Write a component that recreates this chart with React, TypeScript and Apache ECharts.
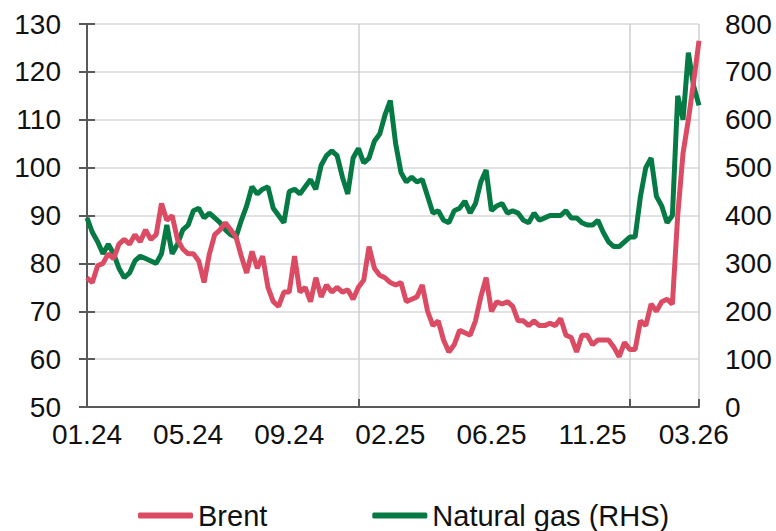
import React, { useEffect, useRef } from "react";
import * as echarts from "echarts";

const xLabels = ["01.24", "05.24", "09.24", "02.25", "06.25", "11.25", "03.26"];
const labelStep = 19;
const yearStep = 51;

const brent = [
  77, 76, 79.5, 80, 82, 81, 84, 85, 84, 86,
  84.5, 87, 85, 86, 92.5, 89, 90, 85, 83, 82,
  82, 80.5, 76, 82, 86, 87, 88.5, 87, 85.5, 81.5,
  78, 82.5, 79, 81.5, 75, 72, 71, 74, 74, 81.5,
  74, 75, 72, 77, 73, 75.5, 74, 75, 74, 74.5,
  72.5, 75, 76.5, 83.5, 79, 77.5, 77, 76, 75.5, 76,
  72, 72.5, 73, 75.5, 70, 67, 68, 64, 61.5, 63,
  66, 65.5, 65, 68, 73, 77, 70, 72, 71.5, 72,
  71, 68, 68, 67, 68, 67, 67, 67.5, 67, 68.5,
  65, 64.5, 61.5, 65, 65, 63, 64, 64, 64, 62.5,
  60.5, 63.5, 62, 62, 68, 67, 71.5, 70, 72, 72.5,
  71.5, 90, 103, 110, 118, 126.5,
];

const gas = [
  395, 365, 345, 320, 340, 320, 290, 270, 280, 305,
  315, 310, 305, 300, 320, 380, 320, 340, 370, 380,
  410, 415, 395, 405, 395, 385, 370, 360, 355, 390,
  420, 460, 445, 455, 460, 415, 400, 385, 450, 455,
  445, 460, 475, 455, 505, 525, 535, 525, 480, 445,
  520, 540, 510, 520, 555, 570, 610, 640, 550, 490,
  470, 480, 470, 475, 440, 405, 410, 390, 385, 410,
  415, 430, 405, 425, 470, 495, 410, 420, 425, 405,
  410, 405, 390, 385, 405, 390, 395, 400, 400, 400,
  410, 395, 395, 385, 380, 380, 390, 365, 345, 335,
  335, 345, 355, 355, 440, 500, 520, 440, 420, 385,
  400, 650, 600, 740, 670, 630,
];

const FONT = "'Liberation Sans', Arial, sans-serif";
const AXIS_COLOR = "#595959";

export default function App() {
  const ref = useRef<HTMLDivElement>(null);

  useEffect(() => {
    if (!ref.current) return;
    const chart = echarts.init(ref.current, undefined, { renderer: "svg" });
    const last = brent.length - 1;
    chart.setOption({
      animation: false,
      backgroundColor: "#ffffff",
      textStyle: { fontFamily: FONT },
      grid: { left: 87, right: 77, top: 24, bottom: 124, containLabel: false },
      legend: {
        data: ["Brent", "Natural gas (RHS)"],
        left: 138,
        top: 501,
        padding: 0,
        icon: "roundRect",
        itemWidth: 55,
        itemHeight: 6,
        itemGap: 105,
        textStyle: { fontSize: 29, color: "#111", fontFamily: FONT },
      },
      xAxis: [
        {
          type: "value",
          min: 0,
          max: last,
          interval: labelStep,
          axisLine: { show: true, lineStyle: { color: AXIS_COLOR, width: 2 } },
          axisTick: { show: false },
          splitLine: { show: false },
          axisLabel: {
            fontSize: 28,
            color: "#111",
            fontFamily: FONT,
            margin: 13,
            showMaxLabel: true,
            formatter: (v: number) =>
              v % labelStep === 0 ? xLabels[v / labelStep] ?? "" : "",
          },
        },
        {
          type: "value",
          min: 0,
          max: last,
          interval: yearStep,
          position: "bottom",
          axisLine: { show: false },
          axisLabel: { show: false },
          axisTick: { show: true, inside: true, length: 8, lineStyle: { color: AXIS_COLOR, width: 2 } },
          splitLine: { show: true, lineStyle: { color: "#c9d0d4", width: 1.5 } },
        },
      ],
      yAxis: [
        {
          type: "value",
          min: 50,
          max: 130,
          interval: 10,
          position: "left",
          axisLine: { show: true, lineStyle: { color: AXIS_COLOR, width: 2 } },
          axisTick: { show: true, inside: true, length: 8, lineStyle: { color: AXIS_COLOR, width: 2 } },
          axisLabel: { fontSize: 28, color: "#111", fontFamily: FONT, margin: 26 },
          splitLine: { show: true, lineStyle: { color: "#d9d9d9", width: 1.5 } },
        },
        {
          type: "value",
          min: 0,
          max: 800,
          interval: 100,
          position: "right",
          axisLine: { show: true, lineStyle: { color: AXIS_COLOR, width: 2 } },
          axisTick: { show: true, inside: true, length: 8, lineStyle: { color: AXIS_COLOR, width: 2 } },
          axisLabel: { fontSize: 28, color: "#111", fontFamily: FONT, margin: 26 },
          splitLine: { show: false },
        },
      ],
      series: [
        {
          name: "Brent",
          type: "line",
          xAxisIndex: 0,
          yAxisIndex: 0,
          data: brent.map((v, i) => [i, v]),
          showSymbol: false,
          symbol: "none",
          z: 3,
          itemStyle: { color: "#dc4b64" },
          lineStyle: { color: "#dc4b64", width: 5 },
        },
        {
          name: "Natural gas (RHS)",
          type: "line",
          xAxisIndex: 0,
          yAxisIndex: 1,
          data: gas.map((v, i) => [i, v]),
          showSymbol: false,
          symbol: "none",
          z: 2,
          itemStyle: { color: "#067a44" },
          lineStyle: { color: "#067a44", width: 5 },
        },
      ],
    });
    return () => chart.dispose();
  }, []);

  return (
    <div
      ref={ref}
      style={{ position: "fixed", left: 0, top: 0, width: 776, height: 531, background: "#fff" }}
    />
  );
}
